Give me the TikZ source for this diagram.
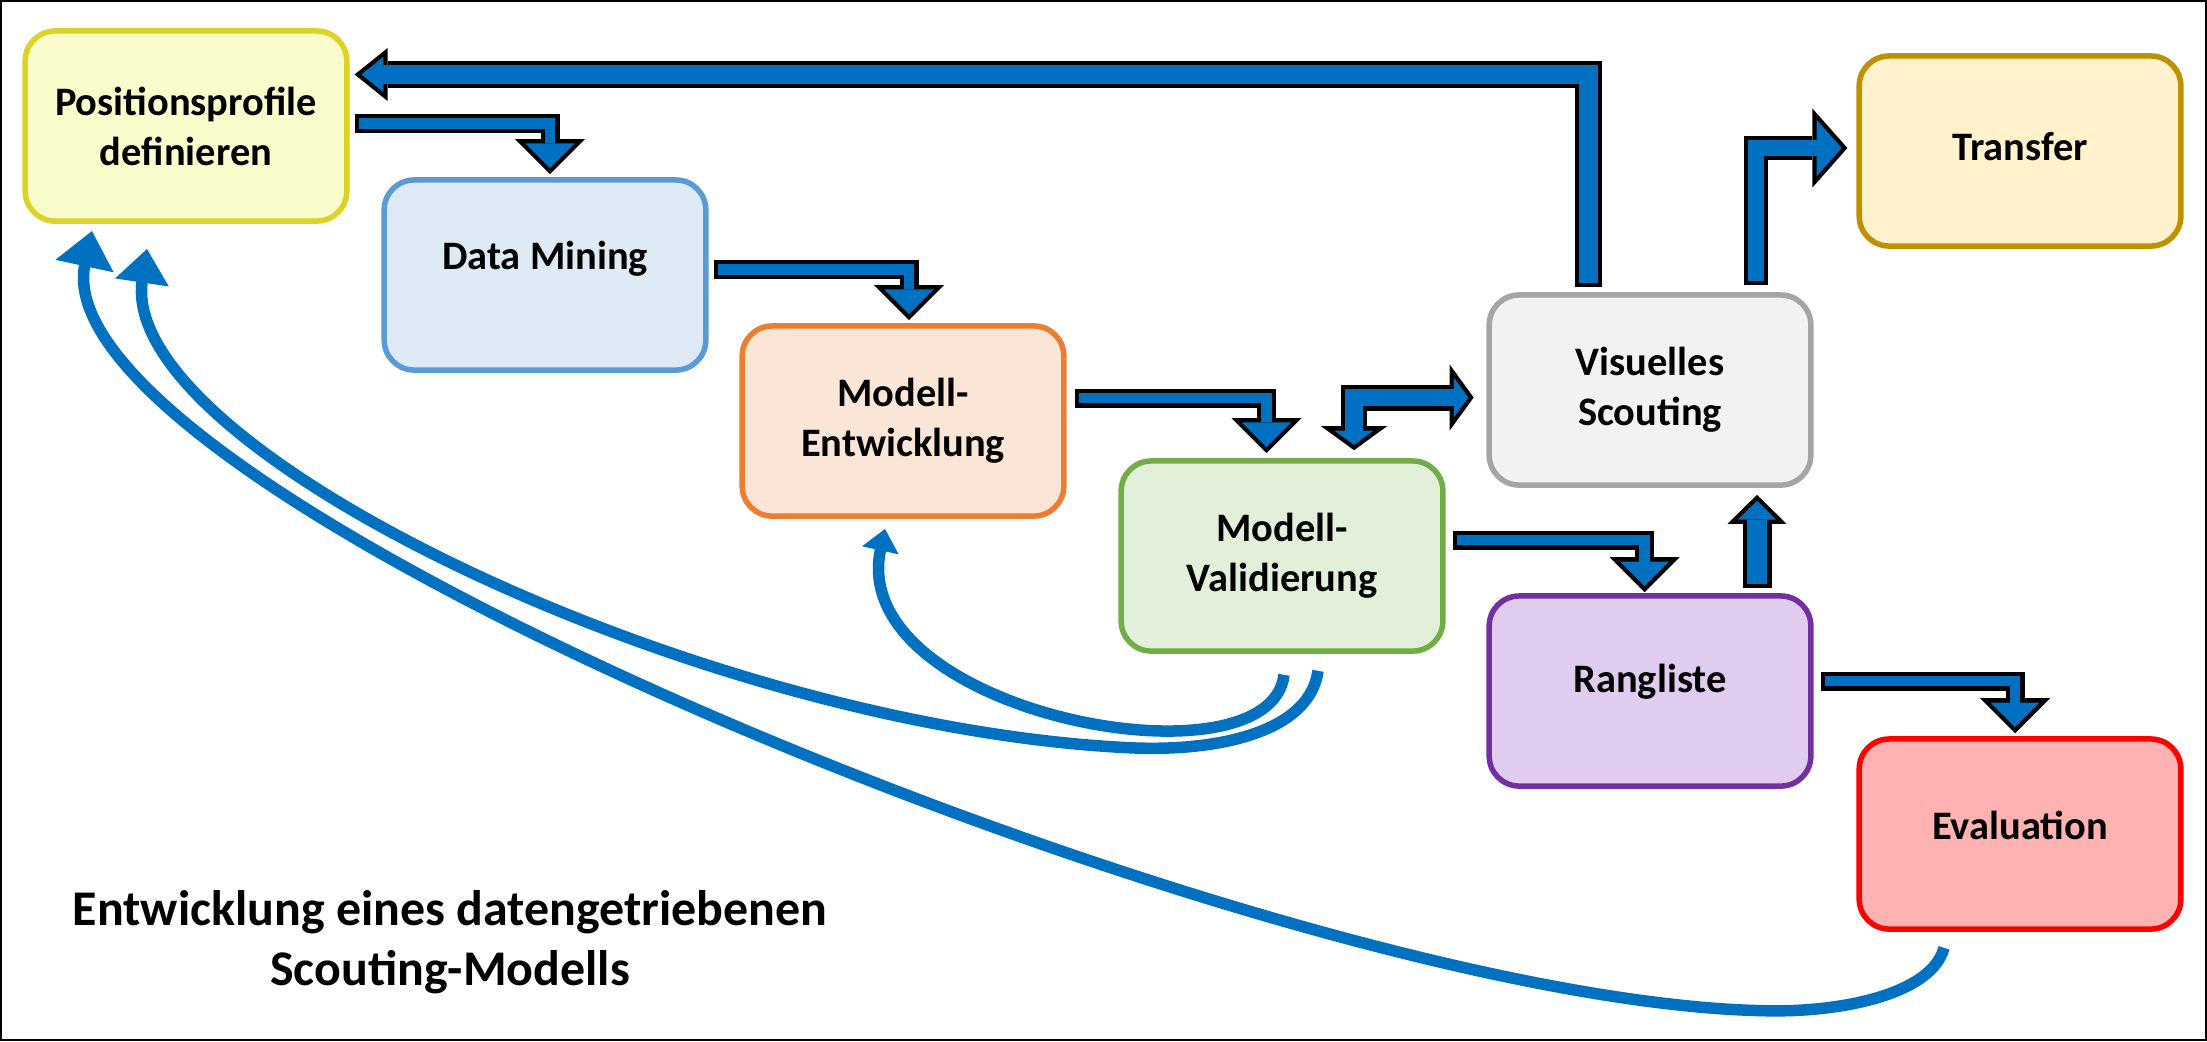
\documentclass[tikz,border=0pt]{standalone}
\usepackage{fontspec}
\setmainfont{Carlito}
\usetikzlibrary{arrows.meta,calc}

\definecolor{flowblue}{RGB}{0,112,192}
\definecolor{posline}{RGB}{221,210,38}
\definecolor{posfill}{RGB}{251,252,204}
\definecolor{dmline}{RGB}{91,155,213}
\definecolor{dmfill}{RGB}{222,235,247}
\definecolor{meline}{RGB}{237,125,49}
\definecolor{mefill}{RGB}{251,229,214}
\definecolor{mvline}{RGB}{112,173,71}
\definecolor{mvfill}{RGB}{226,240,217}
\definecolor{vsline}{RGB}{165,165,165}
\definecolor{vsfill}{RGB}{242,242,242}
\definecolor{trline}{RGB}{191,144,0}
\definecolor{trfill}{RGB}{255,242,204}
\definecolor{rlline}{RGB}{112,48,160}
\definecolor{rlfill}{RGB}{224,204,239}
\definecolor{evline}{RGB}{255,0,0}
\definecolor{evfill}{RGB}{255,178,178}

\begin{document}
\begin{tikzpicture}[
    x=0.01cm, y=-0.01cm,
    box/.style={rectangle, rounded corners=0.3cm, line width=0.055cm, minimum width=3.215cm, minimum height=1.9cm, inner sep=0pt, align=center, font=\fontsize{11.5}{14.2}\selectfont\bfseries},
    arrowout/.style n args={3}{draw=black, line width=#1, line join=miter, -{Triangle[width=#2, length=#3, line width=0pt]}},
    arrowin/.style n args={4}{draw=flowblue, line width=#1, line join=miter, shorten <=0.043cm, shorten >=#4, -{Triangle[width=#2, length=#3, line width=0pt]}},
    feedback/.style={draw=flowblue, line width=0.115cm}
]
\useasboundingbox (0,0) rectangle (2207,1041);
\draw [line width=0.02cm] (1,1) rectangle (2206,1040);

% Process steps
\node [box, draw=posline, fill=posfill] (pos) at (186,126) {Positionsprofile\\definieren};
\node [box, draw=dmline, fill=dmfill, text depth=0.40cm] (dm) at (545,275) {Data Mining};
\node [box, draw=meline, fill=mefill] (me) at (903,421) {Modell-\\Entwicklung};
\node [box, draw=mvline, fill=mvfill] (mv) at (1282,556) {Modell-\\Validierung};
\node [box, draw=vsline, fill=vsfill] (vs) at (1650,390) {Visuelles\\Scouting};
\node [box, draw=trline, fill=trfill, text depth=0.10cm] (tr) at (2020,151) {Transfer};
\node [box, draw=rlline, fill=rlfill, text depth=0.26cm] (rl) at (1650,691) {Rangliste};
\node [box, draw=evline, fill=evfill, text depth=0.18cm] (ev) at (2020,834) {Evaluation};

% Title
\node [font=\fontsize{14.2}{17}\selectfont\bfseries, align=center] (title) at (450,942) {Entwicklung eines datengetriebenen\\Scouting-Modells};

% Arrow ends
\coordinate (a1s) at ($(pos.east)+(5,-2.5)$);
\coordinate (a1e) at ($(dm.north)+(5,-3)$);
\coordinate (a2s) at ($(dm.east)+(5,-5.5)$);
\coordinate (a2e) at ($(me.north)+(6,-3)$);
\coordinate (a3s) at ($(me.east)+(8,-23)$);
\coordinate (a3e) at ($(mv.north)+(-15.5,-5)$);
\coordinate (a7s) at ($(mv.east)+(7,-16)$);
\coordinate (a7e) at ($(rl.north)+(-5.5,-1)$);
\coordinate (a9s) at ($(rl.east)+(7,-10)$);
\coordinate (a9e) at ($(ev.north)+(-5,-3)$);

% Arrows - step to step
\foreach \s/\e in {a1s/a1e, a2s/a2e, a3s/a3e, a7s/a7e, a9s/a9e} {
    \draw [arrowout={0.19cm}{0.70cm}{0.35cm}] (\s) -| (\e);
    \draw [arrowin={0.104cm}{0.492cm}{0.246cm}{0.061cm}] (\s) -| (\e);
}

% Arrows - Validierung and Scouting
\draw [draw=black, line width=0.26cm, line join=miter, {Triangle[width=0.66cm, length=0.24cm, line width=0pt]}-{Triangle[width=0.66cm, length=0.24cm, line width=0pt]}] ($(mv.north)+(72,-8)$) |- ($(vs.west)+(-12.75,7.5)$);
\draw [draw=flowblue, line width=0.174cm, line join=miter, shorten <=0.053cm, shorten >=0.053cm, {Triangle[width=0.395cm, length=0.144cm, line width=0pt]}-{Triangle[width=0.395cm, length=0.144cm, line width=0pt]}] ($(mv.north)+(72,-8)$) |- ($(vs.west)+(-12.75,7.5)$);

% Arrows - Scouting to Transfer
\draw [arrowout={0.24cm}{0.79cm}{0.35cm}] ($(vs.north)+(106,-7)$) |- ($(tr.west)+(-9,-3)$);
\draw [arrowin={0.154cm}{0.563cm}{0.25cm}{0.057cm}] ($(vs.north)+(106,-7)$) |- ($(tr.west)+(-9,-3)$);

% Arrows - Scouting back to Positionsprofile
\draw [arrowout={0.27cm}{0.53cm}{0.33cm}] ($(vs.north)+(-61.5,-5)$) |- ($(pos.east)+(5,-51.5)$);
\draw [arrowin={0.184cm}{0.351cm}{0.218cm}{0.069cm}] ($(vs.north)+(-61.5,-5)$) |- ($(pos.east)+(5,-51.5)$);

% Arrows - Rangliste to Scouting
\draw [arrowout={0.29cm}{0.59cm}{0.29cm}] ($(rl.north)+(107,-5)$) -- ($(vs.south)+(107,7)$);
\draw [arrowin={0.204cm}{0.38cm}{0.187cm}{0.06cm}] ($(rl.north)+(107,-5)$) -- ($(vs.south)+(107,7)$);

% Feedback loops
\draw [feedback, -{Triangle[width=0.36cm, length=0.22cm]}] ($(mv.south)+(2,21)$) .. controls +(-14,118) and +(-40,184) .. ($(me.south)+(-18,10)$);
\draw [feedback, -{Triangle[width=0.52cm, length=0.34cm]}] ($(mv.south)+(36,17)$) .. controls +(-8,60) and +(90,4) .. ++(-187,77) .. controls +(-431,-20) and +(-30,200) .. ($(pos.south)+(-39,25)$);
\draw [feedback, -{Triangle[width=0.57cm, length=0.36cm]}] ($(ev.south)+(-76,16)$) .. controls +(-12,45) and +(70,0) .. ++(-167,63) .. controls +(-477,0) and +(-57,267) .. ($(pos.south)+(-94,7)$);

\end{tikzpicture}
\end{document}
